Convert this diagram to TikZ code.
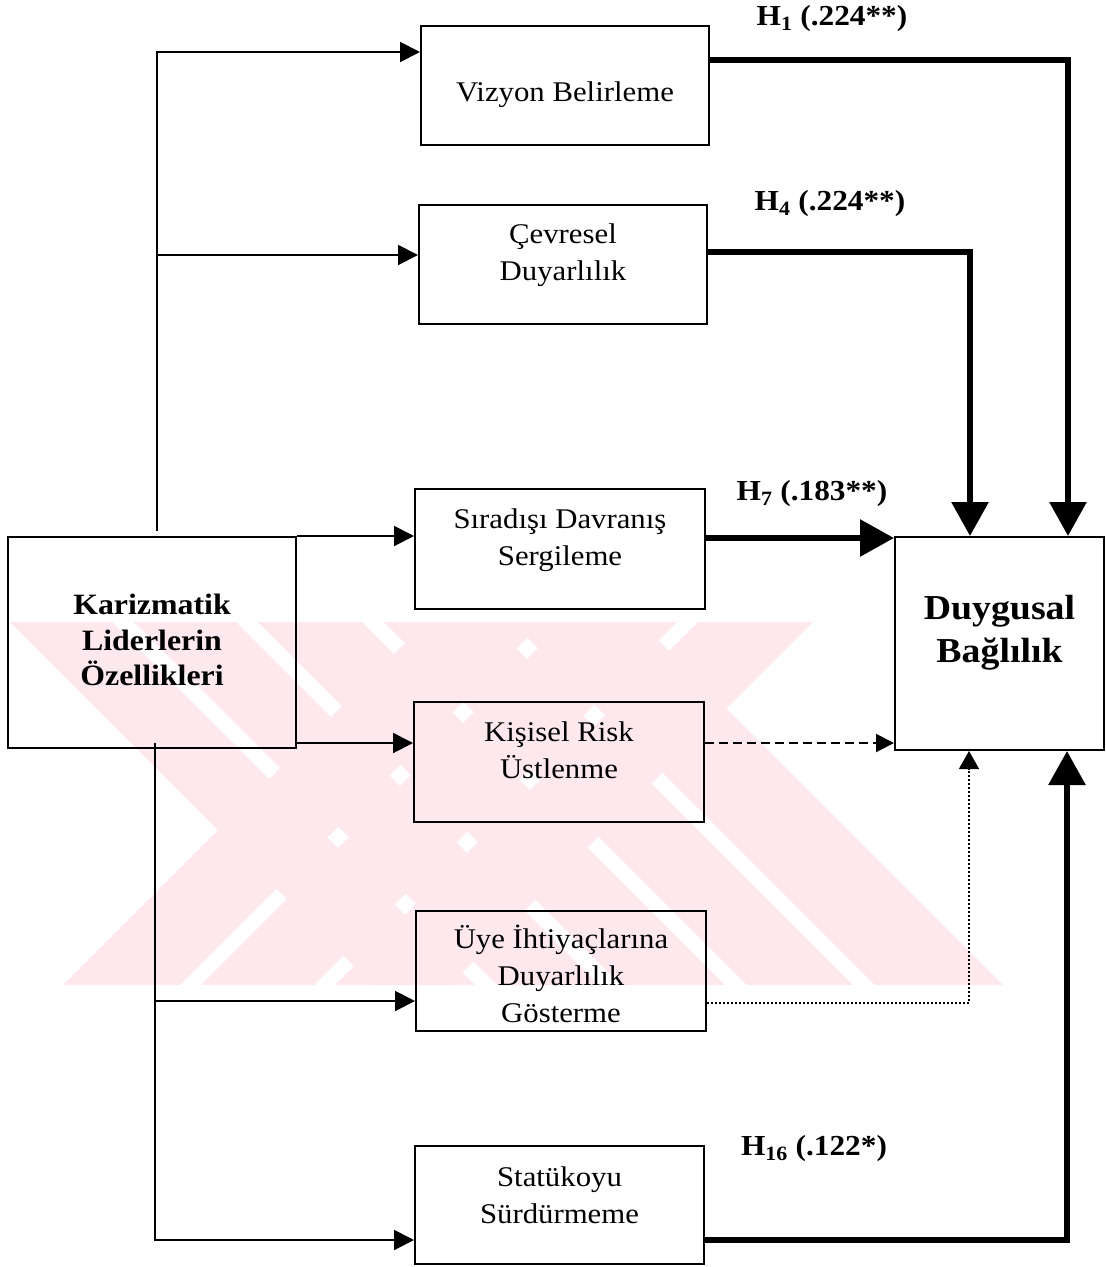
\documentclass[tikz,border=0pt]{standalone}
\usepackage{fontspec}
\setmainfont{Liberation Serif}[FakeStretch=1.08]
\usetikzlibrary{arrows.meta}

\definecolor{wmpink}{RGB}{252,232,237}

\tikzset{
  box/.style={draw, line width=2pt, inner sep=0pt},
  boxtext/.style={align=center, inner sep=0pt, font=\fontsize{28.5}{37}\selectfont},
  keytext/.style={align=center, inner sep=0pt, font=\bfseries\fontsize{29.5}{35.5}\selectfont},
  outtext/.style={align=center, inner sep=0pt, font=\bfseries\fontsize{35}{43}\selectfont},
  coef/.style={inner sep=0pt, font=\bfseries\fontsize{29}{32}\selectfont},
  feed/.style={line width=2pt, -{Triangle[length=20pt,width=20pt]}},
  strong/.style={line width=6pt, -{Triangle[length=34pt,width=36pt]}},
  weak/.style={line width=2pt, dash pattern=on 9pt off 5pt, -{Triangle[length=18pt,width=18pt]}},
  faint/.style={line width=1.5pt, dash pattern=on 2pt off 2pt, -{Triangle[length=18pt,width=20pt]}},
}

\begin{document}
\begin{tikzpicture}[x=1pt,y=-1pt]
\useasboundingbox (0,0) rectangle (1106,1267);

% faint background emblem
\begin{scope}
  \clip (8,622) rectangle (1012,985);
  \foreach \a/\b in {10/112, 134/236, 258/362, 384/490, 512/640}
    \fill[wmpink] (\a,622) -- (\b,622) -- (\b+363,985) -- (\a+363,985) -- cycle;
  \foreach \a/\b in {63/180, 201/314, 335/450}
    \fill[wmpink] (\a,985) -- (\b,985) -- (\b+363,622) -- (\a+363,622) -- cycle;
\end{scope}

% boxes
\node[box, minimum width=288pt, minimum height=119pt] (vizyon)   at (565,85.5)   {};
\node[box, minimum width=288pt, minimum height=119pt] (cevre)    at (563,264.5)  {};
\node[box, minimum width=290pt, minimum height=120pt] (siradisi) at (560,549)    {};
\node[box, minimum width=290pt, minimum height=120pt] (kisisel)  at (559,762)    {};
\node[box, minimum width=290pt, minimum height=120pt] (uye)      at (561,971)    {};
\node[box, minimum width=289pt, minimum height=118pt] (statuko)  at (559.5,1205) {};
\node[box, minimum width=288pt, minimum height=211pt] (kariz)    at (152,642.5)  {};
\node[box, minimum width=209pt, minimum height=213pt] (duygu)    at (999.5,643.5){};

% box texts
\node[boxtext] (vizyon-t)   at (565,95)     {Vizyon Belirleme};
\node[boxtext] (cevre-t)    at (563,255)    {Çevresel\\Duyarlılık};
\node[boxtext] (siradisi-t) at (560,540)    {Sıradışı Davranış\\Sergileme};
\node[boxtext] (kisisel-t)  at (559,750)    {Kişisel Risk\\Üstlenme};
\node[boxtext] (uye-t)      at (561,974)    {Üye İhtiyaçlarına\\Duyarlılık\\Gösterme};
\node[boxtext] (statuko-t)  at (559.5,1195) {Statükoyu\\Sürdürmeme};
\node[keytext] (kariz-t)    at (152,640)    {Karizmatik\\Liderlerin\\Özellikleri};
\node[outtext] (duygu-t)    at (999.5,633)  {Duygusal\\Bağlılık};

% coefficients
\node[coef] (h1)  at (832,19)   {H\textsubscript{1} (.224**)};
\node[coef] (h4)  at (830,204)  {H\textsubscript{4} (.224**)};
\node[coef] (h7)  at (812,494)  {H\textsubscript{7} (.183**)};
\node[coef] (h16) at (814,1149) {H\textsubscript{16} (.122*)};

% links from the leader characteristics
\coordinate (trunkA) at (157,531);
\coordinate (forkA)  at (157,255);
\coordinate (trunkB) at (155,743);
\coordinate (forkB)  at (155,1001);
\draw[feed] (trunkA) |- (vizyon.west |- 0,52);
\draw[feed] (forkA) -- (cevre.west |- forkA);
\draw[feed] (kariz.north east) -- (siradisi.west |- kariz.north east);
\draw[feed] (kariz.east |- trunkB) -- (kisisel.west |- trunkB);
\draw[feed] (trunkB) |- (statuko.west |- 0,1240);
\draw[feed] (forkB) -- (uye.west |- forkB);

% links into affective commitment
\draw[strong] (vizyon.east |- 0,60) -| (1068,0 |- duygu.north);
\draw[strong] (cevre.east |- 0,252) -| (970,0 |- duygu.north);
\draw[strong] (siradisi.east |- 0,538) -- (duygu.west |- 0,538);
\draw[weak]   (kisisel.east |- trunkB) -- (duygu.west |- trunkB);
\draw[faint]  (uye.east |- 0,1003) -| (969,0 |- duygu.south);
\draw[strong] (statuko.east |- 0,1240) -| (1067,0 |- duygu.south);
\end{tikzpicture}
\end{document}
